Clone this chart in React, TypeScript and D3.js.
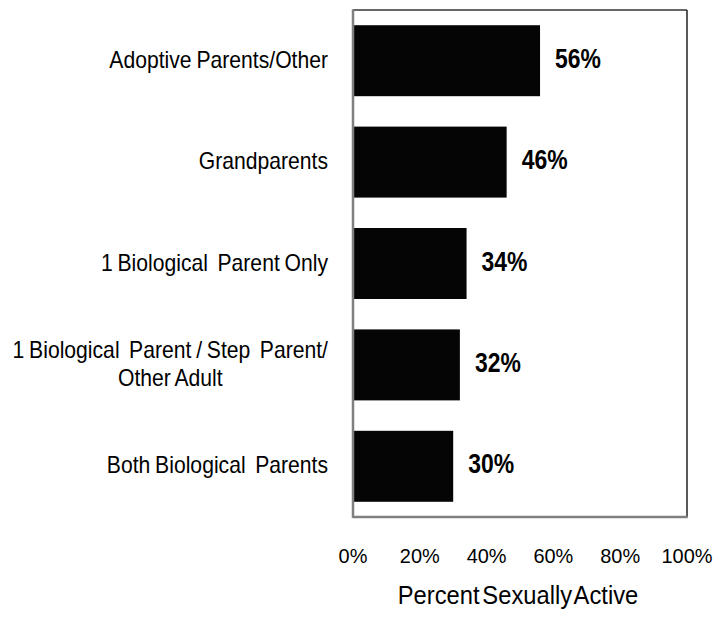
import React, { useLayoutEffect, useRef, useState } from "react";
import * as d3 from "d3";

const categories: string[][] = [
  ["Adoptive Parents/Other"],
  ["Grandparents"],
  ["1 Biological  Parent Only"],
  ["1 Biological  Parent / Step  Parent/", "Other Adult"],
  ["Both Biological  Parents"],
];
const values: number[] = [56, 46, 34, 32, 30];
const tickValues: number[] = [0, 20, 40, 60, 80, 100];
const axisTitle = "Percent Sexually Active";

const W = 716;
const H = 623;
const plot = { left: 353, right: 687, top: 10, bottom: 517 };
const FONT = "'Liberation Sans', Arial, Helvetica, sans-serif";
const LABEL_X = 328;
const LABEL_SX = 0.92;

export default function App() {
  const x = d3.scaleLinear().domain([0, 100]).range([plot.left, plot.right]);
  const y = d3
    .scaleBand<number>()
    .domain(d3.range(values.length))
    .range([plot.top, plot.bottom])
    .paddingInner(0.3)
    .paddingOuter(0.15);
  const bw = y.bandwidth();

  const firstLineRefs = useRef<Record<number, SVGTextElement | null>>({});
  const [firstWidths, setFirstWidths] = useState<Record<number, number>>({});
  useLayoutEffect(() => {
    const w: Record<number, number> = {};
    Object.entries(firstLineRefs.current).forEach(([k, el]) => {
      if (el) w[+k] = el.getComputedTextLength() * LABEL_SX;
    });
    setFirstWidths(w);
  }, []);

  return (
    <svg
      width={W}
      height={H}
      style={{ position: "absolute", left: 0, top: 0, background: "#fff" }}
      fontFamily={FONT}
    >
      <rect x={0} y={0} width={W} height={H} fill="#fff" />
      {values.map((v, i) => (
        <rect
          key={"b" + i}
          x={x(0)}
          y={y(i)!}
          width={x(v) - x(0)}
          height={bw}
          fill="#050505"
        />
      ))}
      {/* frame */}
      <line x1={plot.left} x2={plot.right} y1={plot.top} y2={plot.top} stroke="#333" strokeWidth={1.5} />
      <line x1={plot.right} x2={plot.right} y1={plot.top} y2={plot.bottom} stroke="#222" strokeWidth={1.5} />
      <line x1={plot.left} x2={plot.left} y1={plot.top - 0.75} y2={plot.bottom + 1} stroke="#808080" strokeWidth={2.5} />
      <line x1={plot.left} x2={plot.right + 0.75} y1={plot.bottom} y2={plot.bottom} stroke="#808080" strokeWidth={2.5} />
      {/* value labels */}
      {values.map((v, i) => (
        <text
          key={"v" + i}
          transform={`translate(${x(v) + 15},${y(i)! + bw / 2 + 7}) scale(0.85,1)`}
          fontSize={27}
          fontWeight="bold"
          fill="#000"
        >
          {v + "%"}
        </text>
      ))}
      {/* category labels */}
      {categories.map((lines, i) => {
        const cy = y(i)! + bw / 2;
        const lh = 28;
        const y0 = cy - ((lines.length - 1) * lh) / 2 + 7;
        const w0 = firstWidths[i] ?? 0;
        return lines.map((ln, j) =>
          j === 0 ? (
            <text
              key={"c" + i + "_" + j}
              ref={(el) => {
                firstLineRefs.current[i] = el;
              }}
              transform={`translate(${LABEL_X},${y0}) scale(${LABEL_SX},1)`}
              textAnchor="end"
              fontSize={23}
              wordSpacing={-1.2}
              fill="#000"
              style={{ whiteSpace: "pre" }}
            >
              {ln}
            </text>
          ) : (
            <text
              key={"c" + i + "_" + j}
              transform={`translate(${LABEL_X - w0 / 2},${y0 + j * lh}) scale(${LABEL_SX},1)`}
              textAnchor="middle"
              fontSize={23}
              wordSpacing={-1.2}
              fill="#000"
              style={{ whiteSpace: "pre" }}
            >
              {ln}
            </text>
          )
        );
      })}
      {/* tick labels */}
      {tickValues.map((t) => (
        <text
          key={"t" + t}
          transform={`translate(${x(t)},${563}) scale(0.95,1)`}
          textAnchor="middle"
          fontSize={21}
          fill="#000"
        >
          {t + "%"}
        </text>
      ))}
      <text
        transform={`translate(${(plot.left + plot.right) / 2 - 2},${604}) scale(0.95,1)`}
        textAnchor="middle"
        fontSize={25}
        wordSpacing={-4}
        fill="#000"
      >
        {axisTitle}
      </text>
    </svg>
  );
}
